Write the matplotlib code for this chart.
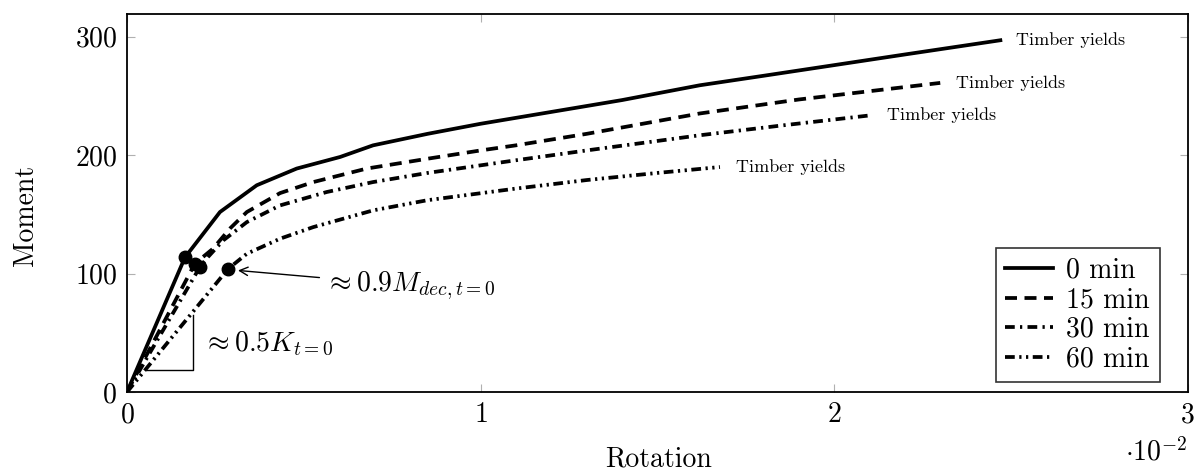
import matplotlib
matplotlib.use("Agg")
import matplotlib.pyplot as plt

plt.rcParams["font.family"] = "cmr10"
plt.rcParams["mathtext.fontset"] = "cm"
plt.rcParams["axes.formatter.use_mathtext"] = True

# Rotation in units of 1e-2, moment values
rot_0 = [0, 0.164, 0.263, 0.367, 0.48, 0.603, 0.696, 0.85, 1.0, 1.2, 1.4, 1.62, 1.8, 2.0, 2.2, 2.47]
mom_0 = [0, 113.7, 152, 174.6, 188.7, 198.5, 208.3, 218, 226.5, 236.5, 246.5, 259, 267, 276, 285, 297]

rot_15 = [0, 0.192, 0.243, 0.291, 0.339, 0.433, 0.527, 0.678, 0.85, 1.0, 1.1, 1.3, 1.62, 1.9, 2.1, 2.30]
mom_15 = [0, 108.4, 121, 138, 152, 168, 177.3, 188.7, 197, 204, 208.3, 218, 235.2, 247, 254, 261]

rot_30 = [0, 0.207, 0.229, 0.272, 0.339, 0.433, 0.565, 0.696, 0.85, 1.1, 1.3, 1.62, 1.85, 2.105]
mom_30 = [0, 106, 114, 128, 143.5, 157.6, 168.9, 177.3, 185, 195.7, 204, 216.8, 225, 233.7]

rot_60 = [0, 0.286, 0.339, 0.433, 0.527, 0.696, 0.85, 1.1, 1.3, 1.5, 1.677]
mom_60 = [0, 104, 116.8, 129.5, 139.3, 153.4, 162, 171.8, 179, 185, 190]

labels = ["0 min", "15 min", "30 min", "60 min"]

fig = plt.figure(figsize=(12, 4.73), dpi=100)
ax = fig.add_axes([0.1058, 0.171, 0.884, 0.799])

fs = 20
lw = 2.7
styles = ["-", (0, (3.2, 2.0)), (0, (2.6, 1.4, 0.6, 1.4)), (0, (2.6, 1.2, 0.6, 1.2, 0.6, 1.2))]
series = [(rot_0, mom_0), (rot_15, mom_15), (rot_30, mom_30), (rot_60, mom_60)]

for (xs, ys), ls, lab in zip(series, styles, labels):
    ax.plot(xs, ys, color="black", lw=lw, linestyle=ls, label=lab)

# onset markers (second point of each curve)
for xs, ys in series:
    ax.plot(xs[1], ys[1], "o", color="black", ms=9, zorder=5)

# "Timber yields" at curve ends
for xs, ys in series:
    ax.text(xs[-1] + 0.045, ys[-1], "Timber yields", fontsize=13,
            va="center", ha="left")

# stiffness triangle
ax.plot([0.056, 0.188, 0.188], [18.8, 18.8, 64.7], color="black", lw=1.0)
ax.text(0.215, 41, r"$\approx 0.5K_{t=0}$", fontsize=fs, va="center", ha="left")

# moment annotation
ax.annotate(r"$\approx 0.9M_{dec,t=0}$", xy=(0.314, 102.7), xytext=(0.56, 90),
            fontsize=fs, va="center", ha="left",
            arrowprops=dict(arrowstyle="->", color="black", lw=1.0,
                            shrinkA=2, shrinkB=0, mutation_scale=15))

ax.set_xlim(0, 3)
ax.set_ylim(0, 319)
ax.set_xticks([0, 1, 2, 3])
ax.set_yticks([0, 100, 200, 300])
ax.tick_params(direction="in", length=6, color="#b0b0b0", labelsize=fs,
               top=True, right=True, pad=7)
for s in ax.spines.values():
    s.set_linewidth(1.3)

ax.set_xlabel("Rotation", fontsize=fs)
ax.xaxis.set_label_coords(0.501, -0.142)
ax.set_ylabel("Moment", fontsize=fs)
ax.yaxis.set_label_coords(-0.083, 0.467)
ax.text(1.0, -0.158, r"$\cdot 10^{-2}$", transform=ax.transAxes, fontsize=fs,
        ha="right", va="center")

leg = ax.legend(loc="lower right", fontsize=fs, frameon=True, fancybox=False,
                edgecolor="black", handlelength=1.7, handletextpad=0.5,
                borderpad=0.35, labelspacing=0.12, borderaxespad=0,
                bbox_to_anchor=(0.9736, 0.026))
leg.get_frame().set_linewidth(1.2)

fig.savefig("out.png", dpi=100)
